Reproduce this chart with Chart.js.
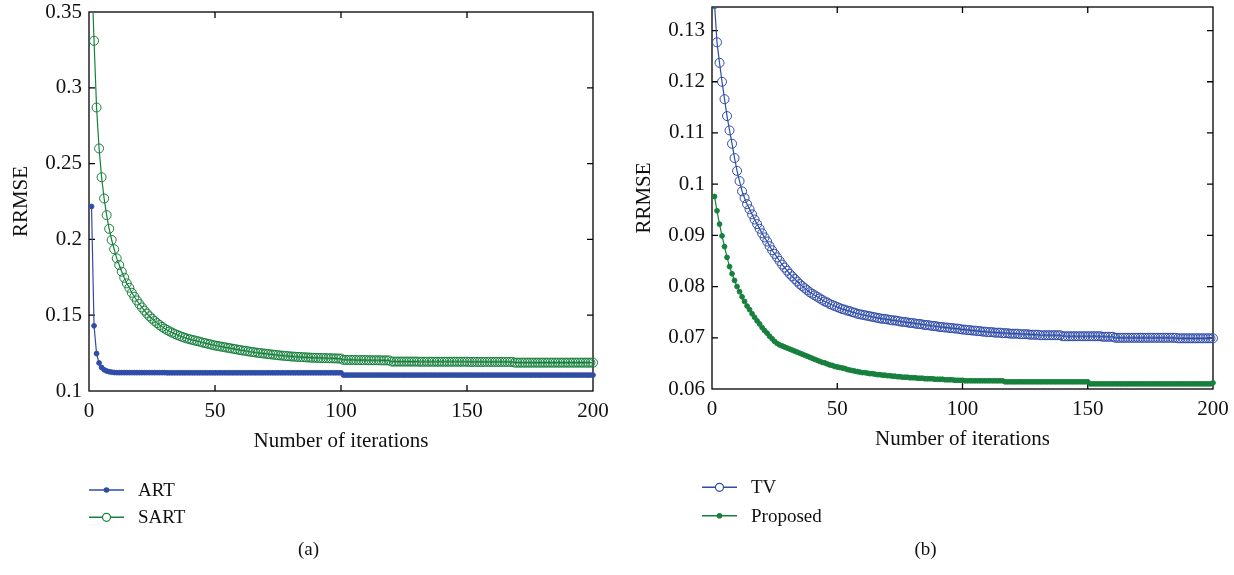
<!DOCTYPE html>
<html>
<head>
<meta charset="utf-8">
<title>RRMSE vs iterations</title>
<script src="https://cdn.jsdelivr.net/npm/chart.js@4.4.1/dist/chart.umd.min.js"></script>
<style>
  html, body { margin: 0; padding: 0; background: #fff; }
  .panel { position: absolute; top: 0; width: 617px; height: 575px; }
  #panelA { left: 0; }
  #panelB { left: 617px; }
</style>
</head>
<body>
<div class="panel" id="panelA"><canvas id="chartA"></canvas></div>
<div class="panel" id="panelB"><canvas id="chartB"></canvas></div>
<script>
// ── Data (RRMSE per iteration) ────────────────────────────
const xTicks  = [0, 50, 100, 150, 200];
const yTicksA = [0.1, 0.15, 0.2, 0.25, 0.3, 0.35];
const yTicksB = [0.06, 0.07, 0.08, 0.09, 0.1, 0.11, 0.12, 0.13];

const artRRMSE = [
  0.2217, 0.1430, 0.1247, 0.1185, 0.1155, 0.1140, 0.1132, 0.1127, 0.1124, 0.1122,
  0.1121, 0.1121, 0.1121, 0.1121, 0.1121, 0.1121, 0.1121, 0.1121, 0.1121, 0.1121,
  0.1121, 0.1121, 0.1121, 0.1121, 0.1121, 0.1121, 0.1121, 0.1121, 0.1121, 0.1121,
  0.1120, 0.1120, 0.1120, 0.1120, 0.1120, 0.1120, 0.1120, 0.1120, 0.1120, 0.1120,
  0.1120, 0.1120, 0.1120, 0.1120, 0.1120, 0.1120, 0.1120, 0.1120, 0.1120, 0.1120,
  0.1120, 0.1120, 0.1120, 0.1120, 0.1120, 0.1120, 0.1120, 0.1120, 0.1120, 0.1120,
  0.1120, 0.1120, 0.1120, 0.1120, 0.1120, 0.1120, 0.1120, 0.1120, 0.1120, 0.1120,
  0.1120, 0.1120, 0.1120, 0.1120, 0.1120, 0.1120, 0.1120, 0.1120, 0.1120, 0.1120,
  0.1120, 0.1120, 0.1120, 0.1120, 0.1120, 0.1120, 0.1120, 0.1120, 0.1120, 0.1120,
  0.1120, 0.1120, 0.1120, 0.1120, 0.1120, 0.1120, 0.1120, 0.1120, 0.1120, 0.1120,
  0.1105, 0.1105, 0.1105, 0.1105, 0.1105, 0.1105, 0.1105, 0.1105, 0.1105, 0.1105,
  0.1105, 0.1105, 0.1105, 0.1105, 0.1105, 0.1105, 0.1105, 0.1105, 0.1105, 0.1105,
  0.1105, 0.1105, 0.1105, 0.1105, 0.1105, 0.1105, 0.1105, 0.1105, 0.1105, 0.1105,
  0.1105, 0.1105, 0.1105, 0.1105, 0.1105, 0.1105, 0.1105, 0.1105, 0.1105, 0.1105,
  0.1105, 0.1105, 0.1105, 0.1105, 0.1105, 0.1105, 0.1105, 0.1105, 0.1105, 0.1105,
  0.1105, 0.1105, 0.1105, 0.1105, 0.1105, 0.1105, 0.1105, 0.1105, 0.1105, 0.1105,
  0.1105, 0.1105, 0.1105, 0.1105, 0.1105, 0.1105, 0.1105, 0.1105, 0.1105, 0.1105,
  0.1105, 0.1105, 0.1105, 0.1105, 0.1105, 0.1105, 0.1105, 0.1105, 0.1105, 0.1105,
  0.1105, 0.1105, 0.1105, 0.1105, 0.1105, 0.1105, 0.1105, 0.1105, 0.1105, 0.1105,
  0.1105, 0.1105, 0.1105, 0.1105, 0.1105, 0.1105, 0.1105, 0.1105, 0.1105, 0.1105
];

const sartRRMSE = [
  0.3800, 0.3310, 0.2870, 0.2600, 0.2410, 0.2270, 0.2160, 0.2070, 0.1996, 0.1935,
  0.1875, 0.1831, 0.1787, 0.1747, 0.1710, 0.1681, 0.1648, 0.1622, 0.1597, 0.1573,
  0.1551, 0.1530, 0.1511, 0.1493, 0.1477, 0.1462, 0.1448, 0.1435, 0.1423, 0.1412,
  0.1402, 0.1393, 0.1385, 0.1377, 0.1370, 0.1363, 0.1357, 0.1351, 0.1346, 0.1341,
  0.1337, 0.1333, 0.1329, 0.1325, 0.1320, 0.1316, 0.1312, 0.1308, 0.1304, 0.1300,
  0.1297, 0.1294, 0.1291, 0.1288, 0.1285, 0.1282, 0.1279, 0.1276, 0.1273, 0.1270,
  0.1267, 0.1265, 0.1262, 0.1259, 0.1257, 0.1254, 0.1252, 0.1250, 0.1248, 0.1246,
  0.1244, 0.1242, 0.1240, 0.1238, 0.1236, 0.1234, 0.1233, 0.1231, 0.1230, 0.1228,
  0.1227, 0.1226, 0.1225, 0.1224, 0.1223, 0.1222, 0.1221, 0.1220, 0.1219, 0.1219,
  0.1218, 0.1218, 0.1217, 0.1217, 0.1216, 0.1216, 0.1215, 0.1215, 0.1214, 0.1214,
  0.1205, 0.1205, 0.1205, 0.1205, 0.1205, 0.1204, 0.1204, 0.1204, 0.1204, 0.1204,
  0.1203, 0.1203, 0.1203, 0.1203, 0.1203, 0.1202, 0.1202, 0.1202, 0.1202, 0.1194,
  0.1194, 0.1194, 0.1194, 0.1194, 0.1194, 0.1194, 0.1194, 0.1194, 0.1194, 0.1194,
  0.1193, 0.1193, 0.1193, 0.1193, 0.1193, 0.1193, 0.1193, 0.1193, 0.1193, 0.1193,
  0.1193, 0.1193, 0.1193, 0.1193, 0.1193, 0.1193, 0.1193, 0.1193, 0.1193, 0.1193,
  0.1192, 0.1192, 0.1192, 0.1192, 0.1192, 0.1192, 0.1192, 0.1192, 0.1192, 0.1192,
  0.1192, 0.1192, 0.1192, 0.1192, 0.1192, 0.1192, 0.1192, 0.1192, 0.1187, 0.1187,
  0.1187, 0.1187, 0.1187, 0.1187, 0.1187, 0.1187, 0.1187, 0.1187, 0.1187, 0.1187,
  0.1187, 0.1187, 0.1187, 0.1187, 0.1187, 0.1187, 0.1187, 0.1187, 0.1187, 0.1187,
  0.1187, 0.1187, 0.1187, 0.1187, 0.1187, 0.1187, 0.1187, 0.1187, 0.1187, 0.1187
];

const tvRRMSE = [
  0.1352, 0.1277, 0.1237, 0.1200, 0.1166, 0.1133, 0.1105, 0.1079, 0.1051, 0.1026,
  0.1006, 0.0986, 0.0973, 0.0961, 0.0951, 0.0941, 0.0931, 0.0922, 0.0913, 0.0904,
  0.0896, 0.0888, 0.0879, 0.0871, 0.0864, 0.0857, 0.0850, 0.0843, 0.0837, 0.0831,
  0.0825, 0.0820, 0.0815, 0.0810, 0.0805, 0.0801, 0.0797, 0.0793, 0.0789, 0.0786,
  0.0783, 0.0780, 0.0777, 0.0774, 0.0771, 0.0769, 0.0766, 0.0764, 0.0762, 0.0760,
  0.0758, 0.0756, 0.0755, 0.0753, 0.0752, 0.0750, 0.0749, 0.0747, 0.0746, 0.0745,
  0.0744, 0.0743, 0.0742, 0.0741, 0.0740, 0.0739, 0.0738, 0.0737, 0.0737, 0.0736,
  0.0735, 0.0734, 0.0734, 0.0733, 0.0732, 0.0731, 0.0731, 0.0730, 0.0729, 0.0729,
  0.0728, 0.0727, 0.0727, 0.0726, 0.0725, 0.0725, 0.0724, 0.0723, 0.0723, 0.0722,
  0.0721, 0.0721, 0.0720, 0.0720, 0.0719, 0.0719, 0.0718, 0.0718, 0.0717, 0.0716,
  0.0716, 0.0715, 0.0715, 0.0714, 0.0714, 0.0713, 0.0713, 0.0712, 0.0712, 0.0711,
  0.0711, 0.0711, 0.0710, 0.0710, 0.0710, 0.0709, 0.0709, 0.0709, 0.0708, 0.0708,
  0.0708, 0.0708, 0.0707, 0.0707, 0.0707, 0.0707, 0.0706, 0.0706, 0.0706, 0.0706,
  0.0705, 0.0705, 0.0705, 0.0705, 0.0705, 0.0705, 0.0705, 0.0705, 0.0705, 0.0703,
  0.0703, 0.0703, 0.0703, 0.0703, 0.0703, 0.0703, 0.0703, 0.0703, 0.0703, 0.0703,
  0.0703, 0.0703, 0.0703, 0.0703, 0.0703, 0.0702, 0.0702, 0.0702, 0.0702, 0.0702,
  0.0700, 0.0700, 0.0700, 0.0700, 0.0700, 0.0700, 0.0700, 0.0700, 0.0700, 0.0700,
  0.0700, 0.0700, 0.0700, 0.0700, 0.0700, 0.0700, 0.0700, 0.0700, 0.0700, 0.0700,
  0.0700, 0.0700, 0.0700, 0.0700, 0.0700, 0.0699, 0.0699, 0.0699, 0.0699, 0.0699,
  0.0699, 0.0699, 0.0699, 0.0699, 0.0699, 0.0699, 0.0699, 0.0699, 0.0699, 0.0699
];

const proposedRRMSE = [
  0.0976, 0.0948, 0.0922, 0.0899, 0.0878, 0.0857, 0.0839, 0.0825, 0.0812, 0.0800,
  0.0790, 0.0780, 0.0771, 0.0762, 0.0755, 0.0747, 0.0740, 0.0733, 0.0727, 0.0720,
  0.0714, 0.0709, 0.0703, 0.0698, 0.0693, 0.0689, 0.0686, 0.0684, 0.0682, 0.0680,
  0.0678, 0.0676, 0.0674, 0.0672, 0.0670, 0.0668, 0.0666, 0.0664, 0.0662, 0.0660,
  0.0658, 0.0656, 0.0654, 0.0652, 0.0651, 0.0649, 0.0647, 0.0646, 0.0644, 0.0643,
  0.0642, 0.0641, 0.0640, 0.0638, 0.0637, 0.0636, 0.0635, 0.0634, 0.0633, 0.0632,
  0.0632, 0.0631, 0.0630, 0.0630, 0.0629, 0.0628, 0.0628, 0.0627, 0.0627, 0.0626,
  0.0626, 0.0625, 0.0625, 0.0624, 0.0624, 0.0623, 0.0623, 0.0623, 0.0622, 0.0622,
  0.0622, 0.0621, 0.0621, 0.0621, 0.0620, 0.0620, 0.0620, 0.0620, 0.0619, 0.0619,
  0.0619, 0.0619, 0.0618, 0.0618, 0.0618, 0.0618, 0.0617, 0.0617, 0.0617, 0.0617,
  0.0616, 0.0616, 0.0616, 0.0616, 0.0616, 0.0616, 0.0616, 0.0616, 0.0616, 0.0616,
  0.0616, 0.0616, 0.0616, 0.0616, 0.0616, 0.0616, 0.0614, 0.0614, 0.0614, 0.0614,
  0.0614, 0.0614, 0.0614, 0.0614, 0.0614, 0.0614, 0.0614, 0.0614, 0.0614, 0.0614,
  0.0614, 0.0614, 0.0614, 0.0614, 0.0614, 0.0614, 0.0614, 0.0614, 0.0614, 0.0614,
  0.0614, 0.0614, 0.0614, 0.0614, 0.0614, 0.0614, 0.0614, 0.0614, 0.0614, 0.0614,
  0.0610, 0.0610, 0.0610, 0.0610, 0.0610, 0.0610, 0.0610, 0.0610, 0.0610, 0.0610,
  0.0610, 0.0610, 0.0610, 0.0610, 0.0610, 0.0610, 0.0610, 0.0610, 0.0610, 0.0610,
  0.0610, 0.0610, 0.0610, 0.0610, 0.0610, 0.0610, 0.0610, 0.0610, 0.0610, 0.0610,
  0.0610, 0.0610, 0.0610, 0.0610, 0.0610, 0.0610, 0.0610, 0.0610, 0.0610, 0.0610,
  0.0610, 0.0610, 0.0610, 0.0610, 0.0610, 0.0610, 0.0610, 0.0610, 0.0610, 0.0612
];

// ── Styling ────────────────────────────────────────────────
const BLUE  = '#2f4ca8';
const GREEN = '#16803c';
const FONT  = "'Liberation Serif', 'Times New Roman', serif";

// iteration k sits at x = k
const toPoints = arr => arr.map((v, i) => ({ x: i + 1, y: v }));

function series(label, data, color, open) {
  return {
    label,
    data: toPoints(data),
    borderColor: color,
    borderWidth: 1.2,
    pointStyle: 'circle',
    pointRadius: open ? 4.5 : 2.4,
    pointBorderWidth: 1,
    pointBorderColor: color,
    pointBackgroundColor: open ? 'rgba(0,0,0,0)' : color,
    tension: 0,
    clip: { left: 6, top: 0, right: 6, bottom: 6 }
  };
}

// ── Box with inward ticks on all four sides ────────────────
const frameTicks = {
  id: 'frameTicks',
  beforeDatasetsDraw(chart) {
    const { ctx, chartArea: a, scales: { x, y } } = chart;
    const len = 6;
    ctx.save();
    ctx.strokeStyle = '#000';
    ctx.lineWidth = 1.3;
    ctx.beginPath();
    x.ticks.forEach(t => {
      const px = x.getPixelForValue(t.value);
      if (px <= a.left + 1 || px >= a.right - 1) return;
      ctx.moveTo(px, a.bottom); ctx.lineTo(px, a.bottom - len);
      ctx.moveTo(px, a.top);    ctx.lineTo(px, a.top + len);
    });
    y.ticks.forEach(t => {
      const py = y.getPixelForValue(t.value);
      if (py <= a.top + 1 || py >= a.bottom - 1) return;
      ctx.moveTo(a.left, py);  ctx.lineTo(a.left + len, py);
      ctx.moveTo(a.right, py); ctx.lineTo(a.right - len, py);
    });
    ctx.stroke();
    ctx.strokeRect(a.left, a.top, a.right - a.left, a.bottom - a.top);
    ctx.restore();
  }
};

// ── Stacked legend + panel caption below the axes ──────────
const stackLegend = {
  id: 'stackLegend',
  afterDraw(chart, args, opts) {
    const { ctx } = chart;
    ctx.save();
    chart.data.datasets.forEach((ds, i) => {
      const y = opts.y + i * opts.dy;
      const x0 = opts.x, x1 = opts.x + 35, xm = (x0 + x1) / 2;
      ctx.strokeStyle = ds.borderColor;
      ctx.lineWidth = 1.4;
      ctx.beginPath(); ctx.moveTo(x0, y); ctx.lineTo(x1, y); ctx.stroke();
      ctx.beginPath();
      ctx.arc(xm, y, ds.pointRadius > 3 ? 4 : 2.8, 0, Math.PI * 2);
      if (ds.pointRadius > 3) {
        ctx.fillStyle = '#fff'; ctx.fill();
        ctx.lineWidth = 1.2; ctx.stroke();
      } else {
        ctx.fillStyle = ds.borderColor; ctx.fill();
      }
      ctx.fillStyle = '#111';
      ctx.font = '19px ' + FONT;
      ctx.textAlign = 'left';
      ctx.textBaseline = 'middle';
      ctx.fillText(ds.label, x0 + 49, y + 1);
    });
    ctx.font = '19px ' + FONT;
    ctx.textAlign = 'center';
    ctx.textBaseline = 'middle';
    ctx.fillStyle = '#111';
    ctx.fillText(opts.caption, chart.width / 2, 550);
    ctx.restore();
  }
};

function makePanel(id, datasets, yTicks, yMin, yMax, lay) {
  new Chart(document.getElementById(id), {
    type: 'line',
    data: { datasets },
    plugins: [frameTicks, stackLegend],
    options: {
      responsive: true,
      maintainAspectRatio: false,
      animation: false,
      layout: { padding: { left: 0, top: lay.top, right: lay.right, bottom: lay.bottom } },
      plugins: {
        legend: { display: false },
        tooltip: { enabled: false },
        stackLegend: { x: lay.legX, y: lay.legY, dy: lay.legDy, caption: lay.caption }
      },
      scales: {
        x: {
          type: 'linear', min: 0, max: 200,
          afterBuildTicks: s => { s.ticks = xTicks.map(v => ({ value: v })); },
          afterFit: s => { s.height = 70; s.paddingLeft = 0; s.paddingRight = 0; },
          grid: { display: false, drawTicks: false },
          border: { display: false },
          ticks: { color: '#111', padding: 8, font: { family: FONT, size: 21 }, callback: v => String(v) },
          title: { display: true, text: 'Number of iterations', color: '#111',
                   padding: { top: 0, bottom: 7 }, font: { family: FONT, size: 21 } }
        },
        y: {
          type: 'linear', min: yMin, max: yMax,
          afterBuildTicks: s => { s.ticks = yTicks.map(v => ({ value: v })); },
          afterFit: s => { s.width = lay.yWidth; s.paddingTop = 0; s.paddingBottom = 0; },
          grid: { display: false, drawTicks: false },
          border: { display: false },
          ticks: { color: '#111', padding: 7, font: { family: FONT, size: 21 }, callback: v => String(v) },
          title: { display: true, text: 'RRMSE', color: '#111',
                   padding: { top: lay.yTitlePad, bottom: 0 }, font: { family: FONT, size: 21 } }
        }
      }
    }
  });
}

makePanel('chartA', [
  series('ART', artRRMSE, BLUE, false),
  series('SART', sartRRMSE, GREEN, true)
], yTicksA, 0.1, 0.35, {
  top: 12, right: 24, bottom: 114, yWidth: 89, yTitlePad: 9,
  legX: 89, legY: 490, legDy: 27.3, caption: '(a)'
});

makePanel('chartB', [
  series('TV', tvRRMSE, BLUE, true),
  series('Proposed', proposedRRMSE, GREEN, false)
], yTicksB, 0.06, 0.1346, {
  top: 7, right: 21, bottom: 116, yWidth: 95, yTitlePad: 15,
  legX: 85, legY: 487.3, legDy: 28.4, caption: '(b)'
});
</script>
</body>
</html>
